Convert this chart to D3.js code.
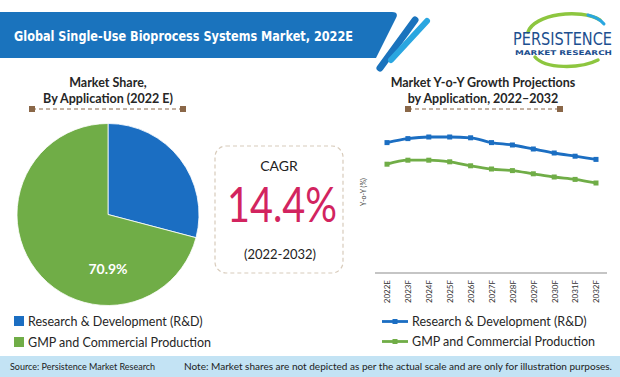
<!DOCTYPE html>
<html><head><meta charset="utf-8">
<script src="https://cdn.jsdelivr.net/npm/d3@7"></script>
<style>body{margin:0;background:#fff}svg{display:block}</style>
</head><body>
<svg id="c" width="620" height="377"></svg>
<script>
const pieCategories = ["Research & Development (R&D)", "GMP and Commercial Production"];
const pieValues = [29.1, 70.9];
const years = ["2022E","2023F","2024F","2025F","2026F","2027F","2028F","2029F","2030F","2031F","2032F"];
const rdGrowth =  [16.3,16.8,17.0,17.0,16.9,16.3,16.0,15.5,15.0,14.6,14.2];
const gmpGrowth = [13.6,14.1,14.1,13.9,13.4,13.0,12.8,12.4,12.0,11.7,11.25];
const cagrLabel = "14.4%";

const BLUE = "#1b6ec2", GREEN = "#70ad47", BROWN = "#8a6748";
const svg = d3.select("#c");
const sans = "Lato, 'Open Sans', sans-serif";

// Header band
svg.append("path").attr("d","M0,12 L392,12 Q399,12 396,18 L376,58 L0,58 Z").attr("fill","#1a73bd");
svg.append("line").attr("x1",415).attr("y1",20).attr("x2",380).attr("y2",68).attr("stroke","#1a73bd").attr("stroke-width",7).attr("stroke-linecap","round");
svg.append("line").attr("x1",427).attr("y1",21).attr("x2",391).attr("y2",60).attr("stroke","#2aa6e0").attr("stroke-width",6).attr("stroke-linecap","round");
svg.append("text").attr("x",14).attr("y",41).attr("fill","#fff").attr("font-family","'DejaVu Sans', sans-serif").attr("font-weight","bold").attr("font-size",14.5).attr("textLength",339).attr("lengthAdjust","spacingAndGlyphs").text("Global Single-Use Bioprocess Systems Market, 2022E");

// Logo
svg.append("path").attr("d","M528,32 C534,14 580,8 600,20").attr("fill","none").attr("stroke","#8dc63f").attr("stroke-width",3.5).attr("stroke-linecap","round");
svg.append("path").attr("d","M588,15 C596,17 600,19 604,24").attr("fill","none").attr("stroke","#2aa6e0").attr("stroke-width",3).attr("stroke-linecap","round");
svg.append("path").attr("d","M535,57 C545,69 580,69 598,60").attr("fill","none").attr("stroke","#8dc63f").attr("stroke-width",3.5).attr("stroke-linecap","round");
svg.append("text").attr("transform","translate(513,45) scale(1,1.3)").attr("fill","#1d4f8f").attr("font-family","'Liberation Sans Narrow','DejaVu Sans Condensed',sans-serif").attr("font-size",14).attr("textLength",99).attr("lengthAdjust","spacingAndGlyphs").text("PERSISTENCE");
svg.append("text").attr("x",515).attr("y",55).attr("fill","#1d4f8f").attr("font-family","'DejaVu Sans',sans-serif").attr("font-weight","bold").attr("font-size",6.5).attr("textLength",97).attr("lengthAdjust","spacingAndGlyphs").text("MARKET RESEARCH");

// Section title helper
function sectionTitle(cx, lines, x1, x2) {
  lines.forEach((t,i)=> svg.append("text").attr("x",cx).attr("y",87+i*16).attr("text-anchor","middle")
    .attr("font-family",sans).attr("font-weight","bold").attr("font-size",12.5).attr("fill","#262626").text(t));
  svg.append("line").attr("x1",x1).attr("x2",x2).attr("y1",109).attr("y2",109).attr("stroke",BROWN).attr("stroke-width",1).attr("stroke-dasharray","4,3");
  [x1,x2].forEach(x=> svg.append("rect").attr("x",x-3).attr("y",106).attr("width",6).attr("height",6).attr("fill",BROWN));
}
sectionTitle(108, ["Market Share,","By Application (2022 E)"], 32, 183);
sectionTitle(483, ["Market Y-o-Y Growth Projections","by Application, 2022\u20132032"], 408, 560);

// Pie
const pieColor = d3.scaleOrdinal().domain(pieCategories).range([BLUE, GREEN]);
const pie = d3.pie().sort(null).value(d=>d.v);
const arcs = pie(pieCategories.map((c,i)=>({c, v: pieValues[i]})));
const arc = d3.arc().innerRadius(0).outerRadius(91);
const pg = svg.append("g").attr("transform","translate(108,214.5)");
pg.selectAll("path").data(arcs).join("path").attr("d",arc).attr("fill",d=>pieColor(d.data.c)).attr("stroke","#fff").attr("stroke-width",0.8);
pg.append("text").datum(arcs[1]).attr("x",0).attr("y",59).attr("text-anchor","middle")
  .attr("font-family",sans).attr("font-weight","bold").attr("font-size",14).attr("fill","#fff").text(d=>d.data.v.toFixed(1)+"%");

// Pie legend
pieCategories.forEach((c,i)=>{
  const y = 321 + i*21;
  svg.append("rect").attr("x",14).attr("y",y-5).attr("width",10).attr("height",10).attr("fill",pieColor(c));
  svg.append("text").attr("x",28).attr("y",y+4.5).attr("font-family",sans).attr("font-size",12.5).attr("fill","#262626").text(c);
});

// CAGR box
svg.append("rect").attr("x",215).attr("y",146).attr("width",128).attr("height",127).attr("rx",11)
  .attr("fill","none").attr("stroke","#d8cbbb").attr("stroke-width",1.2).attr("stroke-dasharray","4,3");
svg.append("text").attr("x",279).attr("y",171).attr("text-anchor","middle").attr("font-family",sans).attr("font-size",14).attr("fill","#222").text("CAGR");
svg.append("text").attr("x",282).attr("y",222).attr("text-anchor","middle").attr("font-family","Lato, sans-serif").attr("font-weight",400).attr("font-size",48).attr("fill","#d2245f").attr("textLength",110).attr("lengthAdjust","spacingAndGlyphs").text(cagrLabel);
svg.append("text").attr("x",280).attr("y",259).attr("text-anchor","middle").attr("font-family",sans).attr("font-size",13).attr("fill","#222").text("(2022-2032)");

// Line chart
const x = d3.scalePoint().domain(years).range([387, 596]);
const y = d3.scaleLinear().domain([0, 20]).range([273, 113]);
const xAxis = svg.append("g").attr("transform","translate(0,273)").call(d3.axisBottom(x).tickSize(0).tickPadding(0));
xAxis.select(".domain").attr("d","M375,0H607").attr("stroke","#8c8c8c").attr("stroke-width",1.2);
xAxis.selectAll("text").attr("transform","rotate(-90)").attr("text-anchor","end").attr("x",-7).attr("y",0).attr("dy","0.35em")
  .attr("font-family",sans).attr("font-size",8).attr("fill","#333");
svg.append("text").attr("transform","translate(366,192) rotate(-90)").attr("text-anchor","middle").attr("font-family",sans).attr("font-size",7).attr("fill","#444").text("Y-o-Y (%)");

const series = [{name: pieCategories[0], vals: rdGrowth, color: BLUE},{name: pieCategories[1], vals: gmpGrowth, color: GREEN}];
const line = d3.line().x((d,i)=>x(years[i])).y(d=>y(d)).curve(d3.curveMonotoneX);
series.forEach(s=>{
  svg.append("path").attr("d",line(s.vals)).attr("fill","none").attr("stroke",s.color).attr("stroke-width",2.8);
  svg.selectAll(null).data(s.vals).join("rect").attr("x",(d,i)=>x(years[i])-2.5).attr("y",d=>y(d)-2.5).attr("width",5).attr("height",5).attr("fill",s.color);
});

// Line legend
series.forEach((s,i)=>{
  const yy = 321.5 + i*20;
  svg.append("line").attr("x1",382).attr("x2",408).attr("y1",yy).attr("y2",yy).attr("stroke",s.color).attr("stroke-width",2.8);
  svg.append("rect").attr("x",392.5).attr("y",yy-2.5).attr("width",5).attr("height",5).attr("fill",s.color);
  svg.append("text").attr("x",412).attr("y",yy+4.5).attr("font-family",sans).attr("font-size",12.5).attr("fill","#262626").text(s.name);
});

// Footer
svg.append("rect").attr("x",0).attr("y",356).attr("width",620).attr("height",21).attr("fill","#c3e3f4");
svg.append("text").attr("x",10).attr("y",370).attr("font-family",sans).attr("font-size",9).attr("fill","#222").text("Source: Persistence Market Research");
svg.append("text").attr("x",184).attr("y",370).attr("font-family",sans).attr("font-size",9).attr("fill","#222").attr("textLength",428).attr("lengthAdjust","spacingAndGlyphs").text("Note: Market shares are not depicted as per the actual scale and are only for illustration purposes.");
</script>
</body></html>
